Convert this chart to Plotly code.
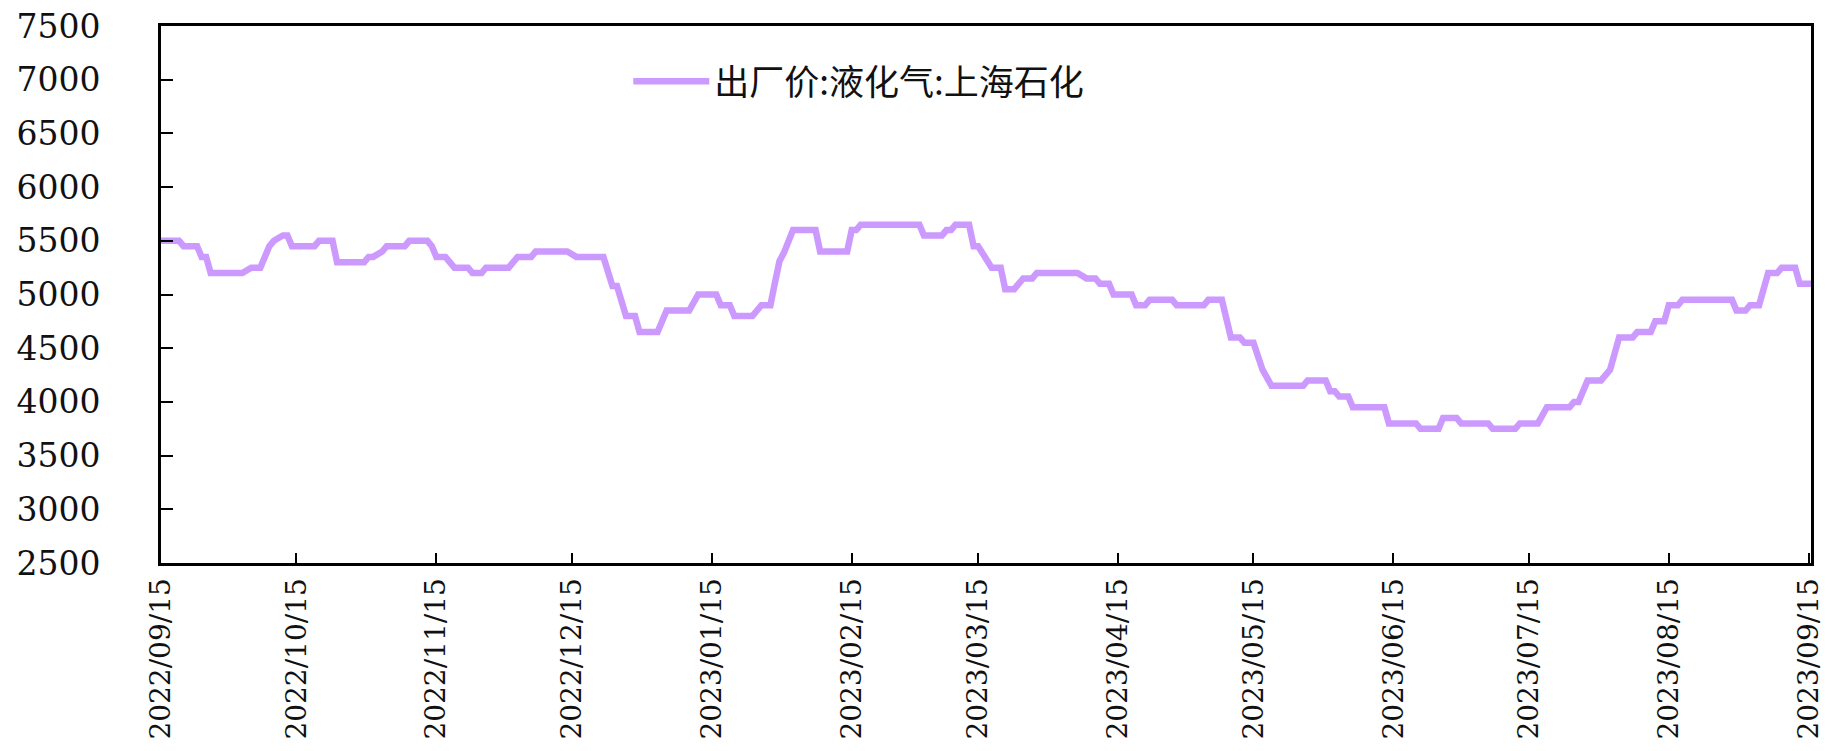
import plotly.graph_objects as go

# ---- data ----
series_name = "出厂价:液化气:上海石化"

dates = [
    "2022-09-15", "2022-09-19", "2022-09-20", "2022-09-23", "2022-09-24", "2022-09-25",
    "2022-09-26", "2022-10-03", "2022-10-05", "2022-10-07", "2022-10-09", "2022-10-10",
    "2022-10-12", "2022-10-13", "2022-10-14", "2022-10-19", "2022-10-20", "2022-10-23",
    "2022-10-24", "2022-10-30", "2022-10-31", "2022-11-01", "2022-11-03", "2022-11-04",
    "2022-11-08", "2022-11-09", "2022-11-13", "2022-11-14", "2022-11-15", "2022-11-17",
    "2022-11-19", "2022-11-22", "2022-11-23", "2022-11-25", "2022-11-26", "2022-12-01",
    "2022-12-03", "2022-12-06", "2022-12-07", "2022-12-14", "2022-12-16", "2022-12-22",
    "2022-12-24", "2022-12-25", "2022-12-27", "2022-12-29", "2022-12-30", "2023-01-03",
    "2023-01-05", "2023-01-10", "2023-01-12", "2023-01-16", "2023-01-17", "2023-01-19",
    "2023-01-20", "2023-01-24", "2023-01-26", "2023-01-28", "2023-01-29", "2023-01-30",
    "2023-01-31", "2023-02-01", "2023-02-02", "2023-02-07", "2023-02-08", "2023-02-14",
    "2023-02-15", "2023-02-16", "2023-02-17", "2023-03-02", "2023-03-03", "2023-03-07",
    "2023-03-08", "2023-03-09", "2023-03-10", "2023-03-13", "2023-03-14", "2023-03-15",
    "2023-03-18", "2023-03-20", "2023-03-21", "2023-03-23", "2023-03-25", "2023-03-27",
    "2023-03-28", "2023-04-06", "2023-04-08", "2023-04-10", "2023-04-11", "2023-04-13",
    "2023-04-14", "2023-04-18", "2023-04-19", "2023-04-21", "2023-04-22", "2023-04-27",
    "2023-04-28", "2023-05-04", "2023-05-05", "2023-05-08", "2023-05-10", "2023-05-12",
    "2023-05-13", "2023-05-15", "2023-05-17", "2023-05-19", "2023-05-26", "2023-05-27",
    "2023-05-31", "2023-06-01", "2023-06-02", "2023-06-03", "2023-06-05", "2023-06-06",
    "2023-06-13", "2023-06-14", "2023-06-20", "2023-06-21", "2023-06-25", "2023-06-26",
    "2023-06-29", "2023-06-30", "2023-07-06", "2023-07-07", "2023-07-12", "2023-07-13",
    "2023-07-17", "2023-07-19", "2023-07-24", "2023-07-25", "2023-07-26", "2023-07-28",
    "2023-07-31", "2023-08-02", "2023-08-04", "2023-08-07", "2023-08-08", "2023-08-11",
    "2023-08-12", "2023-08-14", "2023-08-15", "2023-08-17", "2023-08-18", "2023-08-29",
    "2023-08-30", "2023-09-01", "2023-09-02", "2023-09-04", "2023-09-05", "2023-09-06",
    "2023-09-08", "2023-09-09", "2023-09-12", "2023-09-13", "2023-09-16",
]

prices = [
    5500, 5500, 5450, 5450, 5350, 5350,
    5200, 5200, 5250, 5250, 5450, 5500,
    5550, 5550, 5450, 5450, 5500, 5500,
    5300, 5300, 5350, 5350, 5400, 5450,
    5450, 5500, 5500, 5450, 5350, 5350,
    5250, 5250, 5200, 5200, 5250, 5250,
    5350, 5350, 5400, 5400, 5350, 5350,
    5080, 5080, 4800, 4800, 4650, 4650,
    4850, 4850, 5000, 5000, 4900, 4900,
    4800, 4800, 4900, 4900, 5110, 5310,
    5390, 5510, 5600, 5600, 5400, 5400,
    5600, 5600, 5650, 5650, 5550, 5550,
    5600, 5600, 5650, 5650, 5450, 5450,
    5250, 5250, 5050, 5050, 5150, 5150,
    5200, 5200, 5150, 5150, 5100, 5100,
    5000, 5000, 4900, 4900, 4950, 4950,
    4900, 4900, 4950, 4950, 4600, 4600,
    4550, 4550, 4300, 4150, 4150, 4200,
    4200, 4100, 4100, 4050, 4050, 3950,
    3950, 3800, 3800, 3750, 3750, 3850,
    3850, 3800, 3800, 3750, 3750, 3800,
    3800, 3950, 3950, 4000, 4000, 4200,
    4200, 4300, 4600, 4600, 4650, 4650,
    4750, 4750, 4900, 4900, 4950, 4950,
    4850, 4850, 4900, 4900, 5050, 5200,
    5200, 5250, 5250, 5100, 5100,
]

x_tick_dates = [
    "2022-09-15", "2022-10-15", "2022-11-15", "2022-12-15", "2023-01-15",
    "2023-02-15", "2023-03-15", "2023-04-15", "2023-05-15", "2023-06-15",
    "2023-07-15", "2023-08-15", "2023-09-15",
]
x_tick_labels = [d.replace("-", "/") for d in x_tick_dates]
y_ticks = [2500, 3000, 3500, 4000, 4500, 5000, 5500, 6000, 6500, 7000, 7500]

# ---- figure ----
fig = go.Figure()
fig.add_trace(go.Scatter(
    x=dates, y=prices, mode="lines", name=series_name,
    line=dict(color="#CC99FF", width=6.5),
))

axis_common = dict(
    showline=True, linecolor="#000000", linewidth=3, mirror=True,
    showgrid=False, zeroline=False, automargin=False,
    ticks="inside", tickcolor="#000000", tickwidth=1.5,
    ticklabeloverflow="allow",
)

# the page body adds an 8px margin, so the figure is sized to fit inside it
fig.update_layout(
    width=1816, height=735,
    margin=dict(l=153, r=13, t=18, b=180, autoexpand=False),
    paper_bgcolor="white", plot_bgcolor="white",
    showlegend=True,
    legend=dict(
        x=0.2832, y=0.8965, xanchor="left", yanchor="middle",
        bgcolor="rgba(0,0,0,0)", borderwidth=0,
        itemwidth=76,
        font=dict(family="Noto Sans CJK SC", size=35, color="#111111"),
    ),
    xaxis=dict(
        type="date", range=["2022-09-15", "2023-09-15 12:00"],
        tickvals=x_tick_dates, ticktext=x_tick_labels, tickangle=-90,
        ticklen=10, ticklabelstandoff=1,
        tickfont=dict(family="DejaVu Serif", size=28, color="#111111"),
        **axis_common,
    ),
    yaxis=dict(
        range=[2500, 7500], tickvals=y_ticks, tickformat="d",
        ticklen=12, ticklabelstandoff=51,
        tickfont=dict(family="DejaVu Serif", size=33, color="#111111"),
        **axis_common,
    ),
)

fig.write_html("out.html")
